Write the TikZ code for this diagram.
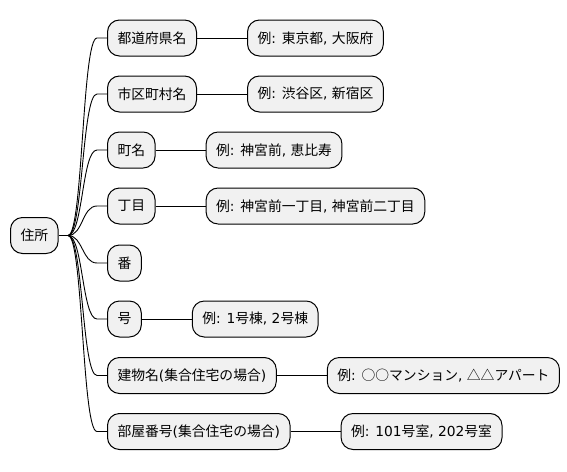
\documentclass[tikz,border=0pt]{standalone}
\usepackage{fontspec}
\setmainfont{DejaVu Sans}
\newfontfamily\cjk{Noto Sans CJK JP}
\newcommand{\J}[1]{{\cjk #1}}
\begin{document}
\begin{tikzpicture}[x=1pt,y=-1pt,
  box/.style={draw=black,line width=1pt,fill={rgb,255:red,241;green,241;blue,241},rounded corners=12pt,
    minimum height=36pt,inner xsep=10pt,inner ysep=0pt,font=\fontsize{13.8pt}{16pt}\selectfont,anchor=west},
  link/.style={line width=0.9pt,draw=black}]
\useasboundingbox (0,0) rectangle (567,471);
\node[box] (root) at (10,235.5) {\J{住所}};
\coordinate (j) at (68,235.5);
\node[box] (a) at (107,38) {\J{都道府県名}};
\node[box] (b) at (107,94) {\J{市区町村名}};
\node[box] (c) at (107,150) {\J{町名}};
\node[box] (d) at (107,206) {\J{丁目}};
\node[box] (e) at (107,263) {\J{番}};
\node[box] (f) at (107,319) {\J{号}};
\node[box] (g) at (107,375.5) {\J{建物名}(\J{集合住宅の場合})};
\node[box] (h) at (107,431.5) {\J{部屋番号}(\J{集合住宅の場合})};
\node[box] (a1) at ([xshift=50pt]a.east) {\J{例}: \J{東京都}, \J{大阪府}};
\node[box] (b1) at ([xshift=50pt]b.east) {\J{例}: \J{渋谷区}, \J{新宿区}};
\node[box] (c1) at ([xshift=50pt]c.east) {\J{例}: \J{神宮前}, \J{恵比寿}};
\node[box] (d1) at ([xshift=50pt]d.east) {\J{例}: \J{神宮前一丁目}, \J{神宮前二丁目}};
\node[box] (f1) at ([xshift=50pt]f.east) {\J{例}: 1\J{号棟}, 2\J{号棟}};
\node[box] (g1) at ([xshift=50pt]g.east) {\J{例}: \J{○○マンション}, \J{△△アパート}};
\node[box] (h1) at ([xshift=50pt]h.east) {\J{例}: 101\J{号室}, 202\J{号室}};
\draw[link] (root.east) -- (j);
\foreach \n in {a,b,c,d,e,f,g,h}{
  \draw[link] (j) .. controls +(15,0) and ([xshift=-25pt]\n.west) .. ([xshift=-10pt]\n.west) -- (\n.west);
}
\foreach \p/\q in {a/a1,b/b1,c/c1,d/d1,f/f1,g/g1,h/h1}{
  \draw[link] (\p.east) -- (\q.west);
}
\end{tikzpicture}
\end{document}
